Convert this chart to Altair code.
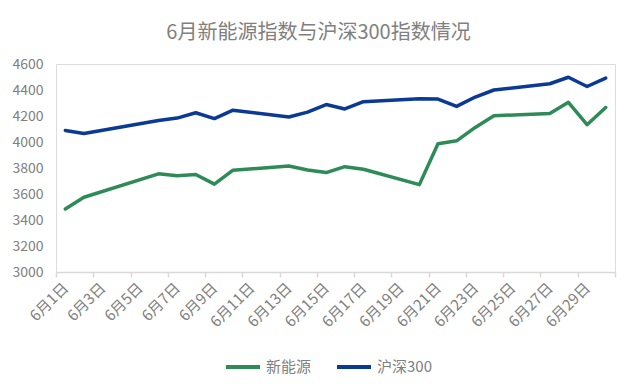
import altair as alt
import pandas as pd

# trading days of June (day of month)
days = [1, 2, 6, 7, 8, 9, 10, 13, 14, 15, 16, 17, 20, 21, 22, 23, 24, 27, 28, 29, 30]
new_energy = [3485, 3575, 3755, 3740, 3750, 3676, 3783, 3815, 3785, 3765, 3810,
              3790, 3672, 3986, 4009, 4112, 4202, 4220, 4305, 4133, 4265]
hs300 = [4089, 4065, 4166, 4184, 4225, 4180, 4245, 4192, 4230, 4288, 4254,
         4310, 4332, 4330, 4274, 4346, 4400, 4448, 4498, 4427, 4492]
series_names = ["新能源", "沪深300"]
series_colors = ["#2E8B57", "#0A3A96"]
y_ticks = [3000, 3200, 3400, 3600, 3800, 4000, 4200, 4400, 4600]
label_days = [1, 3, 5, 7, 9, 11, 13, 15, 17, 19, 21, 23, 25, 27, 29]
boundaries = [0.5 + 2 * i for i in range(16)]

rows = []
for d, a, b in zip(days, new_energy, hs300):
    rows.append({"day": d, "series": series_names[0], "value": a})
    rows.append({"day": d, "series": series_names[1], "value": b})
df = pd.DataFrame(rows)

FONT = "Noto Sans CJK SC"
GRAY = "#808080"

chart = alt.Chart(df).mark_line(strokeWidth=3.5, strokeJoin="round", strokeCap="round").encode(
    x=alt.X("day:Q",
            scale=alt.Scale(domain=[0.5, 30.5], nice=False, zero=False),
            axis=alt.Axis(
                title=None,
                values=sorted(label_days + boundaries),
                labelExpr="datum.value % 2 == 1 ? '6月' + datum.value + '日' : ''",
                labelAngle=-45, labelAlign="right", labelBaseline="middle",
                labelFontSize=15, labelColor=GRAY, labelFont=FONT,
                labelPadding=8, labelOverlap=False, labelBound=False, labelFlush=False,
                tickSize=5, tickColor="#d9d9d9", tickWidth=1.5,
                tickOpacity={"condition": {"test": "datum.value % 2 != 1", "value": 1}, "value": 0},
                domainColor="#d9d9d9", domainWidth=1.5,
                grid=False)),
    y=alt.Y("value:Q",
            scale=alt.Scale(domain=[3000, 4600], nice=False, zero=False),
            axis=alt.Axis(title=None, values=y_ticks, format="d", domain=False, ticks=False, grid=False,
                          labelFontSize=14, labelColor=GRAY, labelFont=FONT, labelPadding=13)),
    color=alt.Color("series:N",
                    scale=alt.Scale(domain=series_names, range=series_colors),
                    sort=series_names,
                    legend=alt.Legend(title=None, orient="none", legendX=168, legendY=284,
                                      direction="horizontal", symbolType="stroke",
                                      symbolSize=1156, symbolStrokeWidth=4,
                                      labelFontSize=15, labelColor=GRAY, labelFont=FONT,
                                      labelOffset=4, columnPadding=17)),
).properties(
    width=559,
    height=208,
    title=alt.TitleParams("6月新能源指数与沪深300指数情况", fontSize=20, color=GRAY,
                          font=FONT, fontWeight="normal", anchor="middle", dx=-17, offset=14),
    padding={"left": 48, "top": 56, "right": 17, "bottom": 104},
    autosize=alt.AutoSizeParams(type="none"),
).configure_view(stroke=None).configure(background="white")

chart.save("out.html", embed_options={"renderer": "svg", "actions": False})
